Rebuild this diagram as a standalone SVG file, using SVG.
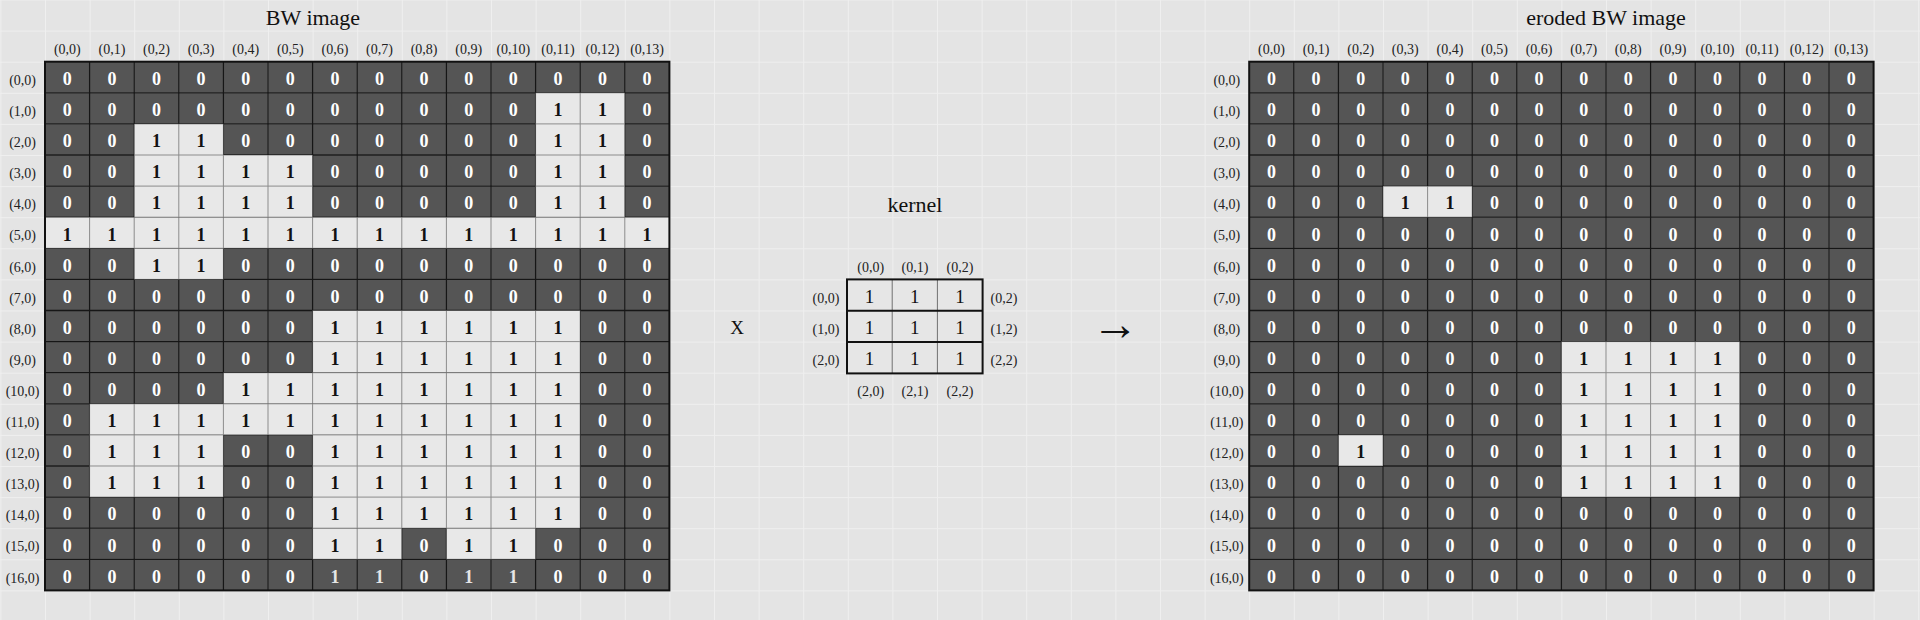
<svg xmlns="http://www.w3.org/2000/svg" xmlns:xlink="http://www.w3.org/1999/xlink" width="1920" height="620" viewBox="0 0 1920 620">
<style>
text{font-family:"Liberation Serif","Times New Roman",serif}
.v{font-weight:bold;font-size:18px;text-anchor:middle;fill:#fff}
.v .o{fill:#111}
.v .od{fill:#e6e6e6}
.lab{font-size:14px;text-anchor:middle;fill:#222}
.ttl{font-size:22px;text-anchor:middle;fill:#111}
.k{font-size:19px;text-anchor:middle;fill:#111}
.gg{fill:none;stroke:#8c8c8c;stroke-width:1}
.gk{fill:none;stroke:#161616;stroke-width:1.3}
.ob{fill:none;stroke:#111;stroke-width:2}
</style>
<defs>
<pattern id="bg" patternUnits="userSpaceOnUse" x="45" y="61.7" width="44.6" height="31.1">
<rect width="44.6" height="31.1" fill="#e4e4e4"/>
<path d="M0 0.5H44.6M0.5 0V31.1" stroke="#efefef" stroke-width="1" fill="none"/>
</pattern>
<path id="gl" d="M44.6 0V528.7M89.2 0V528.7M133.8 0V528.7M178.4 0V528.7M223 0V528.7M267.6 0V528.7M312.2 0V528.7M356.8 0V528.7M401.4 0V528.7M446 0V528.7M490.6 0V528.7M535.2 0V528.7M579.8 0V528.7M0 31.1H624.4M0 62.2H624.4M0 93.3H624.4M0 124.4H624.4M0 155.5H624.4M0 186.6H624.4M0 217.7H624.4M0 248.8H624.4M0 279.9H624.4M0 311H624.4M0 342.1H624.4M0 373.2H624.4M0 404.3H624.4M0 435.4H624.4M0 466.5H624.4M0 497.6H624.4"/>
<g id="Lruns">
<rect x="490.6" y="31.1" width="89.2" height="124.4"/>
<rect x="89.2" y="62.2" width="89.2" height="31.1"/>
<rect x="89.2" y="93.3" width="178.4" height="62.2"/>
<rect x="0" y="155.5" width="624.4" height="31.1"/>
<rect x="89.2" y="186.6" width="89.2" height="31.1"/>
<rect x="267.6" y="248.8" width="267.6" height="62.2"/>
<rect x="178.4" y="311" width="356.8" height="31.1"/>
<rect x="44.6" y="342.1" width="490.6" height="31.1"/>
<rect x="44.6" y="373.2" width="133.8" height="62.2"/>
<rect x="267.6" y="373.2" width="267.6" height="93.3"/>
<rect x="267.6" y="466.5" width="89.2" height="31.1"/>
<rect x="401.4" y="466.5" width="89.2" height="31.1"/>
</g>
<g id="Rruns">
<rect x="133.8" y="124.4" width="89.2" height="31.1"/>
<rect x="312.2" y="279.9" width="178.4" height="155.5"/>
<rect x="89.2" y="373.2" width="44.6" height="31.1"/>
</g>
<mask id="mL" maskUnits="userSpaceOnUse" x="-10" y="-10" width="650" height="550">
<rect x="-10" y="-10" width="650" height="550" fill="#fff"/>
<use xlink:href="#Lruns" href="#Lruns" fill="#000"/>
</mask>
<mask id="mR" maskUnits="userSpaceOnUse" x="-10" y="-10" width="650" height="550">
<rect x="-10" y="-10" width="650" height="550" fill="#fff"/>
<use xlink:href="#Rruns" href="#Rruns" fill="#000"/>
</mask>
<g id="colhead" class="lab">
<text x="22.3" y="-7.7">(0,0)</text><text x="66.9" y="-7.7">(0,1)</text><text x="111.5" y="-7.7">(0,2)</text><text x="156.1" y="-7.7">(0,3)</text><text x="200.7" y="-7.7">(0,4)</text><text x="245.3" y="-7.7">(0,5)</text><text x="289.9" y="-7.7">(0,6)</text><text x="334.5" y="-7.7">(0,7)</text><text x="379.1" y="-7.7">(0,8)</text><text x="423.7" y="-7.7">(0,9)</text><text x="468.3" y="-7.7">(0,10)</text><text x="512.9" y="-7.7">(0,11)</text><text x="557.5" y="-7.7">(0,12)</text><text x="602.1" y="-7.7">(0,13)</text>
</g>
<g id="rowhead" class="lab">
<text x="-22.4" y="23.3">(0,0)</text><text x="-22.4" y="54.4">(1,0)</text><text x="-22.4" y="85.5">(2,0)</text><text x="-22.4" y="116.6">(3,0)</text><text x="-22.4" y="147.7">(4,0)</text><text x="-22.4" y="178.8">(5,0)</text><text x="-22.4" y="209.9">(6,0)</text><text x="-22.4" y="241">(7,0)</text><text x="-22.4" y="272.1">(8,0)</text><text x="-22.4" y="303.2">(9,0)</text><text x="-22.4" y="334.3">(10,0)</text><text x="-22.4" y="365.4">(11,0)</text><text x="-22.4" y="396.5">(12,0)</text><text x="-22.4" y="427.6">(13,0)</text><text x="-22.4" y="458.7">(14,0)</text><text x="-22.4" y="489.8">(15,0)</text><text x="-22.4" y="520.9">(16,0)</text>
</g>
</defs>

<rect id="background" width="1920" height="620" fill="url(#bg)"/>

<g id="bw-image" transform="translate(45,61.7)">
<rect width="624.4" height="528.7" fill="#555"/>
<use xlink:href="#Lruns" href="#Lruns" fill="#e8e8e8"/>
<use xlink:href="#gl" href="#gl" class="gg"/>
<use xlink:href="#gl" href="#gl" class="gk" mask="url(#mL)"/>
<rect width="624.4" height="528.7" class="ob"/>
<use xlink:href="#colhead" href="#colhead"/>
<use xlink:href="#rowhead" href="#rowhead"/>
<g class="v">
<g transform="translate(0,23.3)"><text x="22.3">0</text><text x="66.9">0</text><text x="111.5">0</text><text x="156.1">0</text><text x="200.7">0</text><text x="245.3">0</text><text x="289.9">0</text><text x="334.5">0</text><text x="379.1">0</text><text x="423.7">0</text><text x="468.3">0</text><text x="512.9">0</text><text x="557.5">0</text><text x="602.1">0</text></g>
<g transform="translate(0,54.4)"><text x="22.3">0</text><text x="66.9">0</text><text x="111.5">0</text><text x="156.1">0</text><text x="200.7">0</text><text x="245.3">0</text><text x="289.9">0</text><text x="334.5">0</text><text x="379.1">0</text><text x="423.7">0</text><text x="468.3">0</text><text class="o" x="512.9">1</text><text class="o" x="557.5">1</text><text x="602.1">0</text></g>
<g transform="translate(0,85.5)"><text x="22.3">0</text><text x="66.9">0</text><text class="o" x="111.5">1</text><text class="o" x="156.1">1</text><text x="200.7">0</text><text x="245.3">0</text><text x="289.9">0</text><text x="334.5">0</text><text x="379.1">0</text><text x="423.7">0</text><text x="468.3">0</text><text class="o" x="512.9">1</text><text class="o" x="557.5">1</text><text x="602.1">0</text></g>
<g transform="translate(0,116.6)"><text x="22.3">0</text><text x="66.9">0</text><text class="o" x="111.5">1</text><text class="o" x="156.1">1</text><text class="o" x="200.7">1</text><text class="o" x="245.3">1</text><text x="289.9">0</text><text x="334.5">0</text><text x="379.1">0</text><text x="423.7">0</text><text x="468.3">0</text><text class="o" x="512.9">1</text><text class="o" x="557.5">1</text><text x="602.1">0</text></g>
<g transform="translate(0,147.7)"><text x="22.3">0</text><text x="66.9">0</text><text class="o" x="111.5">1</text><text class="o" x="156.1">1</text><text class="o" x="200.7">1</text><text class="o" x="245.3">1</text><text x="289.9">0</text><text x="334.5">0</text><text x="379.1">0</text><text x="423.7">0</text><text x="468.3">0</text><text class="o" x="512.9">1</text><text class="o" x="557.5">1</text><text x="602.1">0</text></g>
<g transform="translate(0,178.8)"><text class="o" x="22.3">1</text><text class="o" x="66.9">1</text><text class="o" x="111.5">1</text><text class="o" x="156.1">1</text><text class="o" x="200.7">1</text><text class="o" x="245.3">1</text><text class="o" x="289.9">1</text><text class="o" x="334.5">1</text><text class="o" x="379.1">1</text><text class="o" x="423.7">1</text><text class="o" x="468.3">1</text><text class="o" x="512.9">1</text><text class="o" x="557.5">1</text><text class="o" x="602.1">1</text></g>
<g transform="translate(0,209.9)"><text x="22.3">0</text><text x="66.9">0</text><text class="o" x="111.5">1</text><text class="o" x="156.1">1</text><text x="200.7">0</text><text x="245.3">0</text><text x="289.9">0</text><text x="334.5">0</text><text x="379.1">0</text><text x="423.7">0</text><text x="468.3">0</text><text x="512.9">0</text><text x="557.5">0</text><text x="602.1">0</text></g>
<g transform="translate(0,241)"><text x="22.3">0</text><text x="66.9">0</text><text x="111.5">0</text><text x="156.1">0</text><text x="200.7">0</text><text x="245.3">0</text><text x="289.9">0</text><text x="334.5">0</text><text x="379.1">0</text><text x="423.7">0</text><text x="468.3">0</text><text x="512.9">0</text><text x="557.5">0</text><text x="602.1">0</text></g>
<g transform="translate(0,272.1)"><text x="22.3">0</text><text x="66.9">0</text><text x="111.5">0</text><text x="156.1">0</text><text x="200.7">0</text><text x="245.3">0</text><text class="o" x="289.9">1</text><text class="o" x="334.5">1</text><text class="o" x="379.1">1</text><text class="o" x="423.7">1</text><text class="o" x="468.3">1</text><text class="o" x="512.9">1</text><text x="557.5">0</text><text x="602.1">0</text></g>
<g transform="translate(0,303.2)"><text x="22.3">0</text><text x="66.9">0</text><text x="111.5">0</text><text x="156.1">0</text><text x="200.7">0</text><text x="245.3">0</text><text class="o" x="289.9">1</text><text class="o" x="334.5">1</text><text class="o" x="379.1">1</text><text class="o" x="423.7">1</text><text class="o" x="468.3">1</text><text class="o" x="512.9">1</text><text x="557.5">0</text><text x="602.1">0</text></g>
<g transform="translate(0,334.3)"><text x="22.3">0</text><text x="66.9">0</text><text x="111.5">0</text><text x="156.1">0</text><text class="o" x="200.7">1</text><text class="o" x="245.3">1</text><text class="o" x="289.9">1</text><text class="o" x="334.5">1</text><text class="o" x="379.1">1</text><text class="o" x="423.7">1</text><text class="o" x="468.3">1</text><text class="o" x="512.9">1</text><text x="557.5">0</text><text x="602.1">0</text></g>
<g transform="translate(0,365.4)"><text x="22.3">0</text><text class="o" x="66.9">1</text><text class="o" x="111.5">1</text><text class="o" x="156.1">1</text><text class="o" x="200.7">1</text><text class="o" x="245.3">1</text><text class="o" x="289.9">1</text><text class="o" x="334.5">1</text><text class="o" x="379.1">1</text><text class="o" x="423.7">1</text><text class="o" x="468.3">1</text><text class="o" x="512.9">1</text><text x="557.5">0</text><text x="602.1">0</text></g>
<g transform="translate(0,396.5)"><text x="22.3">0</text><text class="o" x="66.9">1</text><text class="o" x="111.5">1</text><text class="o" x="156.1">1</text><text x="200.7">0</text><text x="245.3">0</text><text class="o" x="289.9">1</text><text class="o" x="334.5">1</text><text class="o" x="379.1">1</text><text class="o" x="423.7">1</text><text class="o" x="468.3">1</text><text class="o" x="512.9">1</text><text x="557.5">0</text><text x="602.1">0</text></g>
<g transform="translate(0,427.6)"><text x="22.3">0</text><text class="o" x="66.9">1</text><text class="o" x="111.5">1</text><text class="o" x="156.1">1</text><text x="200.7">0</text><text x="245.3">0</text><text class="o" x="289.9">1</text><text class="o" x="334.5">1</text><text class="o" x="379.1">1</text><text class="o" x="423.7">1</text><text class="o" x="468.3">1</text><text class="o" x="512.9">1</text><text x="557.5">0</text><text x="602.1">0</text></g>
<g transform="translate(0,458.7)"><text x="22.3">0</text><text x="66.9">0</text><text x="111.5">0</text><text x="156.1">0</text><text x="200.7">0</text><text x="245.3">0</text><text class="o" x="289.9">1</text><text class="o" x="334.5">1</text><text class="o" x="379.1">1</text><text class="o" x="423.7">1</text><text class="o" x="468.3">1</text><text class="o" x="512.9">1</text><text x="557.5">0</text><text x="602.1">0</text></g>
<g transform="translate(0,489.8)"><text x="22.3">0</text><text x="66.9">0</text><text x="111.5">0</text><text x="156.1">0</text><text x="200.7">0</text><text x="245.3">0</text><text class="o" x="289.9">1</text><text class="o" x="334.5">1</text><text x="379.1">0</text><text class="o" x="423.7">1</text><text class="o" x="468.3">1</text><text x="512.9">0</text><text x="557.5">0</text><text x="602.1">0</text></g>
<g transform="translate(0,520.9)"><text x="22.3">0</text><text x="66.9">0</text><text x="111.5">0</text><text x="156.1">0</text><text x="200.7">0</text><text x="245.3">0</text><text class="od" x="289.9">1</text><text class="od" x="334.5">1</text><text x="379.1">0</text><text class="od" x="423.7">1</text><text class="od" x="468.3">1</text><text x="512.9">0</text><text x="557.5">0</text><text x="602.1">0</text></g>
</g>
</g>
<g id="bw-title"><text class="ttl" x="313" y="25">BW image</text></g>

<g id="operator-x"><text class="k" x="737" y="334">X</text></g>

<g id="kernel-title"><text class="ttl" x="915" y="211.5">kernel</text></g>
<g id="kernel" transform="translate(847,279.4)">
<rect width="135.6" height="94" fill="#e6e6e6"/>
<path d="M45.2 0V94M90.4 0V94" stroke="#707070" stroke-width="1" fill="none"/>
<path d="M0 31.3H135.6M0 62.6H135.6" stroke="#111" stroke-width="2" fill="none"/>
<rect width="135.6" height="94" class="ob"/>
<g class="k">
<text x="22.6" y="23.5">1</text><text x="67.8" y="23.5">1</text><text x="113" y="23.5">1</text>
<text x="22.6" y="54.8">1</text><text x="67.8" y="54.8">1</text><text x="113" y="54.8">1</text>
<text x="22.6" y="86.1">1</text><text x="67.8" y="86.1">1</text><text x="113" y="86.1">1</text>
</g>
<g class="lab">
<text x="23.7" y="-7.7">(0,0)</text><text x="68" y="-7.7">(0,1)</text><text x="113" y="-7.7">(0,2)</text>
<text x="-21" y="23.5">(0,0)</text><text x="-21" y="54.8">(1,0)</text><text x="-21" y="86.1">(2,0)</text>
<text x="157" y="23.5">(0,2)</text><text x="157" y="54.8">(1,2)</text><text x="157" y="86.1">(2,2)</text>
<text x="23.7" y="116.6">(2,0)</text><text x="68" y="116.6">(2,1)</text><text x="113" y="116.6">(2,2)</text>
</g>
</g>

<g id="connectors"><text x="1115" y="339.5" font-size="47" text-anchor="middle" fill="#111">→</text></g>

<g id="eroded-bw-image" transform="translate(1249.2,61.7)">
<rect width="624.4" height="528.7" fill="#555"/>
<use xlink:href="#Rruns" href="#Rruns" fill="#e8e8e8"/>
<use xlink:href="#gl" href="#gl" class="gg"/>
<use xlink:href="#gl" href="#gl" class="gk" mask="url(#mR)"/>
<rect width="624.4" height="528.7" class="ob"/>
<use xlink:href="#colhead" href="#colhead"/>
<use xlink:href="#rowhead" href="#rowhead"/>
<g class="v">
<g transform="translate(0,23.3)"><text x="22.3">0</text><text x="66.9">0</text><text x="111.5">0</text><text x="156.1">0</text><text x="200.7">0</text><text x="245.3">0</text><text x="289.9">0</text><text x="334.5">0</text><text x="379.1">0</text><text x="423.7">0</text><text x="468.3">0</text><text x="512.9">0</text><text x="557.5">0</text><text x="602.1">0</text></g>
<g transform="translate(0,54.4)"><text x="22.3">0</text><text x="66.9">0</text><text x="111.5">0</text><text x="156.1">0</text><text x="200.7">0</text><text x="245.3">0</text><text x="289.9">0</text><text x="334.5">0</text><text x="379.1">0</text><text x="423.7">0</text><text x="468.3">0</text><text x="512.9">0</text><text x="557.5">0</text><text x="602.1">0</text></g>
<g transform="translate(0,85.5)"><text x="22.3">0</text><text x="66.9">0</text><text x="111.5">0</text><text x="156.1">0</text><text x="200.7">0</text><text x="245.3">0</text><text x="289.9">0</text><text x="334.5">0</text><text x="379.1">0</text><text x="423.7">0</text><text x="468.3">0</text><text x="512.9">0</text><text x="557.5">0</text><text x="602.1">0</text></g>
<g transform="translate(0,116.6)"><text x="22.3">0</text><text x="66.9">0</text><text x="111.5">0</text><text x="156.1">0</text><text x="200.7">0</text><text x="245.3">0</text><text x="289.9">0</text><text x="334.5">0</text><text x="379.1">0</text><text x="423.7">0</text><text x="468.3">0</text><text x="512.9">0</text><text x="557.5">0</text><text x="602.1">0</text></g>
<g transform="translate(0,147.7)"><text x="22.3">0</text><text x="66.9">0</text><text x="111.5">0</text><text class="o" x="156.1">1</text><text class="o" x="200.7">1</text><text x="245.3">0</text><text x="289.9">0</text><text x="334.5">0</text><text x="379.1">0</text><text x="423.7">0</text><text x="468.3">0</text><text x="512.9">0</text><text x="557.5">0</text><text x="602.1">0</text></g>
<g transform="translate(0,178.8)"><text x="22.3">0</text><text x="66.9">0</text><text x="111.5">0</text><text x="156.1">0</text><text x="200.7">0</text><text x="245.3">0</text><text x="289.9">0</text><text x="334.5">0</text><text x="379.1">0</text><text x="423.7">0</text><text x="468.3">0</text><text x="512.9">0</text><text x="557.5">0</text><text x="602.1">0</text></g>
<g transform="translate(0,209.9)"><text x="22.3">0</text><text x="66.9">0</text><text x="111.5">0</text><text x="156.1">0</text><text x="200.7">0</text><text x="245.3">0</text><text x="289.9">0</text><text x="334.5">0</text><text x="379.1">0</text><text x="423.7">0</text><text x="468.3">0</text><text x="512.9">0</text><text x="557.5">0</text><text x="602.1">0</text></g>
<g transform="translate(0,241)"><text x="22.3">0</text><text x="66.9">0</text><text x="111.5">0</text><text x="156.1">0</text><text x="200.7">0</text><text x="245.3">0</text><text x="289.9">0</text><text x="334.5">0</text><text x="379.1">0</text><text x="423.7">0</text><text x="468.3">0</text><text x="512.9">0</text><text x="557.5">0</text><text x="602.1">0</text></g>
<g transform="translate(0,272.1)"><text x="22.3">0</text><text x="66.9">0</text><text x="111.5">0</text><text x="156.1">0</text><text x="200.7">0</text><text x="245.3">0</text><text x="289.9">0</text><text x="334.5">0</text><text x="379.1">0</text><text x="423.7">0</text><text x="468.3">0</text><text x="512.9">0</text><text x="557.5">0</text><text x="602.1">0</text></g>
<g transform="translate(0,303.2)"><text x="22.3">0</text><text x="66.9">0</text><text x="111.5">0</text><text x="156.1">0</text><text x="200.7">0</text><text x="245.3">0</text><text x="289.9">0</text><text class="o" x="334.5">1</text><text class="o" x="379.1">1</text><text class="o" x="423.7">1</text><text class="o" x="468.3">1</text><text x="512.9">0</text><text x="557.5">0</text><text x="602.1">0</text></g>
<g transform="translate(0,334.3)"><text x="22.3">0</text><text x="66.9">0</text><text x="111.5">0</text><text x="156.1">0</text><text x="200.7">0</text><text x="245.3">0</text><text x="289.9">0</text><text class="o" x="334.5">1</text><text class="o" x="379.1">1</text><text class="o" x="423.7">1</text><text class="o" x="468.3">1</text><text x="512.9">0</text><text x="557.5">0</text><text x="602.1">0</text></g>
<g transform="translate(0,365.4)"><text x="22.3">0</text><text x="66.9">0</text><text x="111.5">0</text><text x="156.1">0</text><text x="200.7">0</text><text x="245.3">0</text><text x="289.9">0</text><text class="o" x="334.5">1</text><text class="o" x="379.1">1</text><text class="o" x="423.7">1</text><text class="o" x="468.3">1</text><text x="512.9">0</text><text x="557.5">0</text><text x="602.1">0</text></g>
<g transform="translate(0,396.5)"><text x="22.3">0</text><text x="66.9">0</text><text class="o" x="111.5">1</text><text x="156.1">0</text><text x="200.7">0</text><text x="245.3">0</text><text x="289.9">0</text><text class="o" x="334.5">1</text><text class="o" x="379.1">1</text><text class="o" x="423.7">1</text><text class="o" x="468.3">1</text><text x="512.9">0</text><text x="557.5">0</text><text x="602.1">0</text></g>
<g transform="translate(0,427.6)"><text x="22.3">0</text><text x="66.9">0</text><text x="111.5">0</text><text x="156.1">0</text><text x="200.7">0</text><text x="245.3">0</text><text x="289.9">0</text><text class="o" x="334.5">1</text><text class="o" x="379.1">1</text><text class="o" x="423.7">1</text><text class="o" x="468.3">1</text><text x="512.9">0</text><text x="557.5">0</text><text x="602.1">0</text></g>
<g transform="translate(0,458.7)"><text x="22.3">0</text><text x="66.9">0</text><text x="111.5">0</text><text x="156.1">0</text><text x="200.7">0</text><text x="245.3">0</text><text x="289.9">0</text><text x="334.5">0</text><text x="379.1">0</text><text x="423.7">0</text><text x="468.3">0</text><text x="512.9">0</text><text x="557.5">0</text><text x="602.1">0</text></g>
<g transform="translate(0,489.8)"><text x="22.3">0</text><text x="66.9">0</text><text x="111.5">0</text><text x="156.1">0</text><text x="200.7">0</text><text x="245.3">0</text><text x="289.9">0</text><text x="334.5">0</text><text x="379.1">0</text><text x="423.7">0</text><text x="468.3">0</text><text x="512.9">0</text><text x="557.5">0</text><text x="602.1">0</text></g>
<g transform="translate(0,520.9)"><text x="22.3">0</text><text x="66.9">0</text><text x="111.5">0</text><text x="156.1">0</text><text x="200.7">0</text><text x="245.3">0</text><text x="289.9">0</text><text x="334.5">0</text><text x="379.1">0</text><text x="423.7">0</text><text x="468.3">0</text><text x="512.9">0</text><text x="557.5">0</text><text x="602.1">0</text></g>
</g>
</g>
<g id="eroded-title"><text class="ttl" x="1606" y="25">eroded BW image</text></g>
</svg>
